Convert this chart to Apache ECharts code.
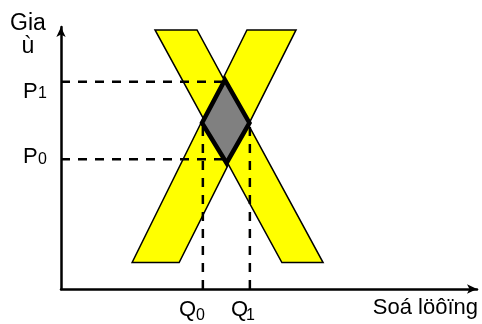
<!DOCTYPE html>
<html>
<head>
<meta charset="utf-8">
<style>
  html, body { margin: 0; padding: 0; background: #fff; }
  #chart { width: 482px; height: 324px; }
</style>
<script src="https://cdn.jsdelivr.net/npm/echarts@6/dist/echarts.min.js"></script>
</head>
<body>
<div id="chart"></div>
<script>
// band polygons (x = quantity, y = price)
const supplyBand = [[17.1, 10.1], [28.4, 10.1], [56.5, 98.9], [44.7, 98.9]];
const demandBand = [[22.6, 98.9], [32.7, 98.9], [63.0, 10.1], [53.1, 10.1]];
const diamond = [[39.4, 79.8], [33.9, 63.4], [39.8, 48.1], [45.3, 63.4]];

const P0 = 49.5;
const P1 = 79.1;
const Q0 = 34.1;
const Q1 = 45.4;

const p1Line = [[0, P1], [39.4, P1]];
const p0Line = [[0, P0], [39.8, P0]];
const q0Line = [[Q0, 0], [Q0, 63.4]];
const q1Line = [[Q1, 0], [Q1, 63.4]];

const font = 'Arial, "Liberation Sans", sans-serif';

function polygonSeries(points, fill, lineWidth, z) {
  return {
    type: "custom",
    coordinateSystem: "cartesian2d",
    silent: true,
    z: z,
    data: points,
    renderItem: function(params, api) {
      if (params.dataIndex !== 0) {
        return null;
      }
      return {
        type: "polygon",
        shape: { points: points.map(p => api.coord(p)) },
        style: { fill: fill, stroke: "#000", lineWidth: lineWidth, lineJoin: "miter" }
      };
    }
  };
}

function dashSeries(data) {
  return {
    type: "line",
    data: data,
    symbol: "none",
    silent: true,
    z: 3,
    lineStyle: { color: "#000", width: 2.5, type: [9, 8] }
  };
}

function label(text, x, y, size, align) {
  return {
    type: "text",
    x: x,
    y: y,
    style: {
      text: text,
      fill: "#000",
      font: size + "px " + font,
      textAlign: align || "left",
      textVerticalAlign: "middle"
    }
  };
}

const chart = echarts.init(document.getElementById("chart"));
chart.setOption({
  animation: false,
  backgroundColor: "#fff",
  grid: { left: 61, right: 5, top: 27, bottom: 35 },
  xAxis: {
    type: "value",
    min: 0,
    max: 100,
    splitLine: { show: false },
    axisTick: { show: false },
    axisLabel: { show: false },
    axisLine: {
      onZero: false,
      symbol: ["none", "arrow"],
      symbolSize: [7, 10],
      lineStyle: { color: "#000", width: 2.5 }
    }
  },
  yAxis: {
    type: "value",
    min: 0,
    max: 100,
    splitLine: { show: false },
    axisTick: { show: false },
    axisLabel: { show: false },
    axisLine: {
      onZero: false,
      symbol: ["none", "arrow"],
      symbolSize: [7, 10],
      lineStyle: { color: "#000", width: 2.5 }
    }
  },
  graphic: [
    label("Gia", 28, 24, 23, "center"),
    label("ù", 28, 47, 23, "center"),
    label("P", 23, 92, 22),
    label("1", 38, 94, 16),
    label("P", 23, 157, 22),
    label("0", 38, 160, 16),
    label("Q", 179, 310, 22),
    label("0", 196, 316, 16),
    label("Q", 231, 310, 22),
    label("1", 246, 316, 16),
    label("Soá löôïng", 478, 308, 22, "right")
  ],
  series: [
    polygonSeries(supplyBand, "#ffff00", 1.5, 1),
    polygonSeries(demandBand, "#ffff00", 1.5, 2),
    dashSeries(p1Line),
    dashSeries(p0Line),
    dashSeries(q0Line),
    dashSeries(q1Line),
    polygonSeries(diamond, "#808080", 4.5, 4)
  ]
});
</script>
</body>
</html>
